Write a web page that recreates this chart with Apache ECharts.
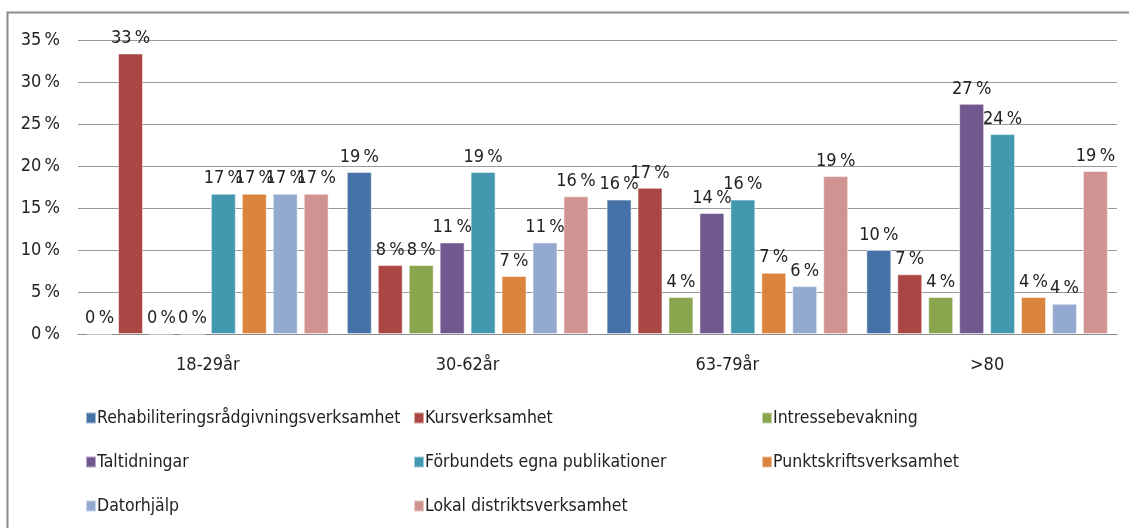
<!DOCTYPE html>
<html>
<head>
<meta charset="utf-8">
<script src="https://cdn.jsdelivr.net/npm/echarts@6/dist/echarts.min.js"></script>
<style>
    html, body { margin: 0; padding: 0; background: #fff; }
    #chart { width: 1129px; height: 528px; }
</style>
</head>
<body>
<div id="chart"></div>
<script>
const FONT = '"Liberation Sans Narrow", "DejaVu Sans Condensed", sans-serif';

const categories = ["18-29år", "30-62år", "63-79år", ">80"];
const yTicks = [0, 5, 10, 15, 20, 25, 30, 35];

const seriesNames = [
    "Rehabiliteringsrådgivningsverksamhet",
    "Kursverksamhet",
    "Intressebevakning",
    "Taltidningar",
    "Förbundets egna publikationer",
    "Punktskriftsverksamhet",
    "Datorhjälp",
    "Lokal distriktsverksamhet"
];
const seriesColors = ["#4572A7", "#AA4643", "#89A54E", "#71588F", "#4198AF", "#DB843D", "#93A9CF", "#D19392"];

// percent values per age group
const rehab = [0, 19.3, 16.0, 10.0];
const kurs = [33.4, 8.2, 17.4, 7.1];
const intresse = [0, 8.2, 4.4, 4.4];
const taltidningar = [0, 10.9, 14.4, 27.4];
const forbundets = [16.7, 19.3, 16.0, 23.8];
const punkt = [16.7, 6.9, 7.3, 4.4];
const dator = [16.7, 10.9, 5.7, 3.6];
const lokal = [16.7, 16.4, 18.8, 19.4];

const seriesData = [rehab, kurs, intresse, taltidningar, forbundets, punkt, dator, lokal];

const chart = echarts.init(document.getElementById("chart"));

const series = seriesNames.map((name, i) => ({
    name: name,
    type: "bar",
    data: seriesData[i],
    barGap: "24%",
    barCategoryGap: "7%",
    itemStyle: {
        color: seriesColors[i],
        borderColor: "rgba(255,255,255,0.5)",
        borderWidth: 1
    },
    label: {
        show: true,
        position: "top",
        distance: 6,
        color: "#222",
        fontFamily: FONT,
        fontSize: 18,
        formatter: p => Math.round(p.value) + "\u2009%"
    }
}));

function legendCol(names, left) {
    return {
        orient: "vertical",
        left: left,
        top: 404,
        itemGap: 26,
        itemWidth: 10,
        itemHeight: 11,
        icon: "rect",
        data: names,
        textStyle: { fontFamily: FONT, fontSize: 17.5, color: "#222", padding: [0, 0, 0, -4] }
    };
}

chart.setOption({
    animation: false,
    graphic: [{
        type: "polyline",
        shape: { points: [[7.5, 528], [7.5, 12.5], [1129, 12.5]] },
        style: { stroke: "#8c8c8c", lineWidth: 2, fill: null }
    }],
    legend: [
        legendCol([seriesNames[0], seriesNames[3], seriesNames[6]], 80),
        legendCol([seriesNames[1], seriesNames[4], seriesNames[7]], 408),
        legendCol([seriesNames[2], seriesNames[5]], 756)
    ],
    grid: { left: 78, right: 12, top: 40, bottom: 194 },
    xAxis: {
        type: "category",
        data: categories,
        axisTick: { show: false },
        axisLine: { lineStyle: { color: "#8c8c8c", width: 1 } },
        axisLabel: { fontFamily: FONT, fontSize: 18, color: "#222", margin: 22 }
    },
    yAxis: {
        type: "value",
        min: yTicks[0],
        max: yTicks[yTicks.length - 1],
        interval: 5,
        axisLine: { show: false },
        axisTick: { show: false },
        axisLabel: { fontFamily: FONT, fontSize: 18, color: "#222", margin: 18, formatter: v => v + "\u2009%" },
        splitLine: { lineStyle: { color: "#999", width: 1 } }
    },
    series: series
});
</script>
</body>
</html>
